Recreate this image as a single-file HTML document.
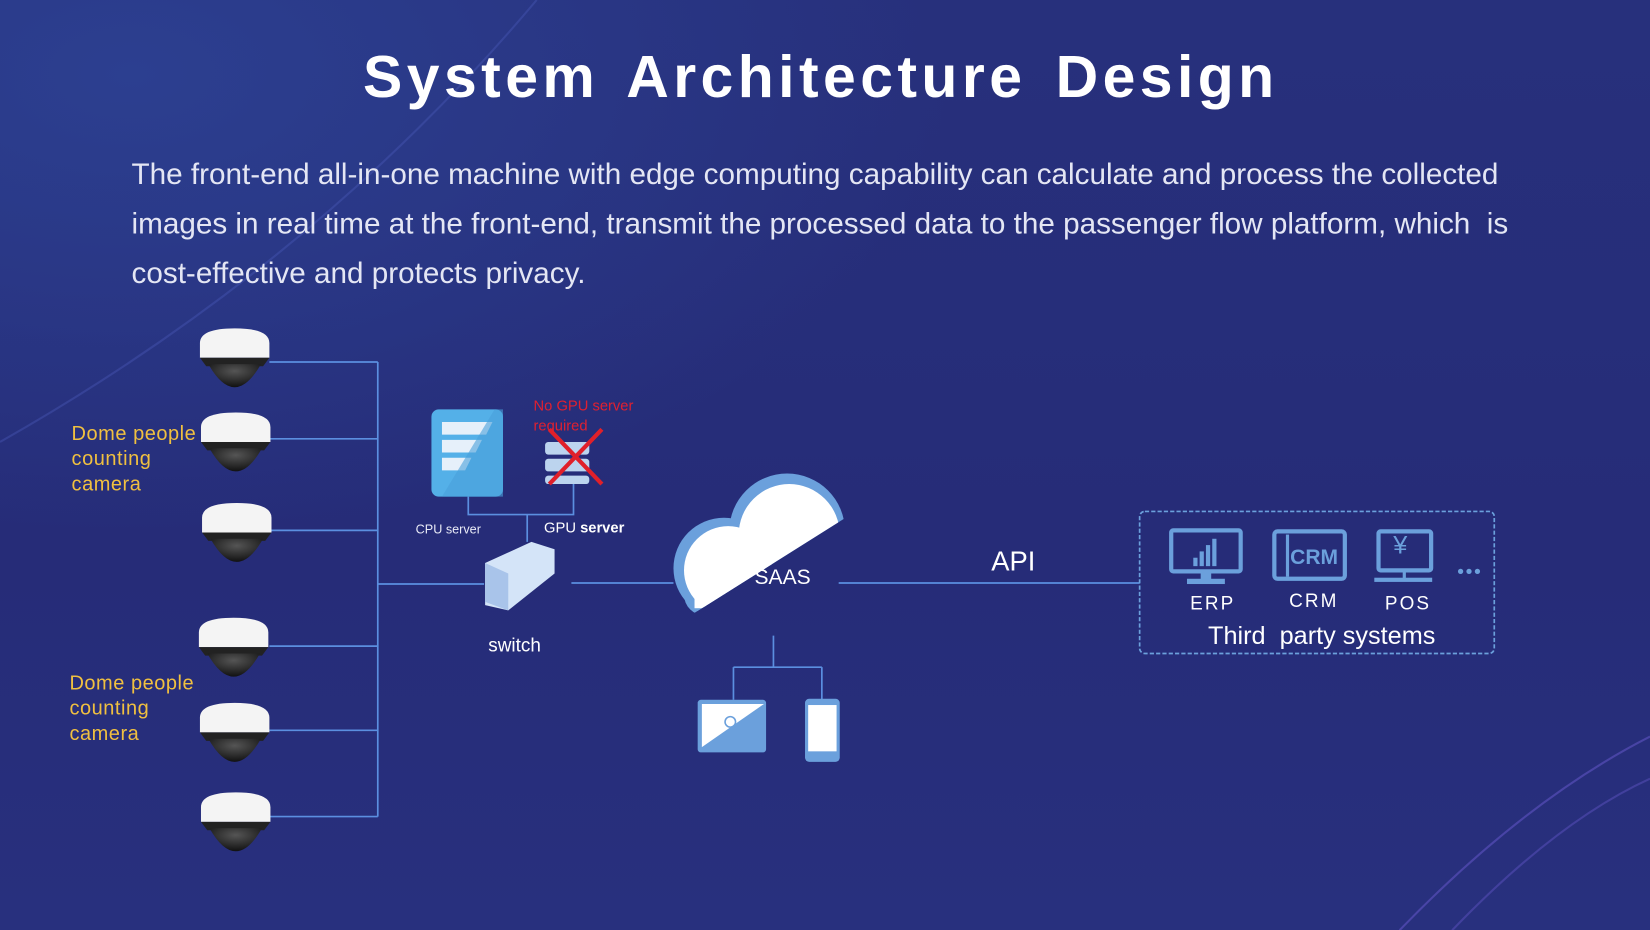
<!DOCTYPE html>
<html><head><meta charset="utf-8"><style>
html,body{margin:0;padding:0;width:1650px;height:930px;overflow:hidden;background:#262c78;}
#s{position:absolute;left:0;top:0;width:1568px;height:884px;transform:scale(1.05230);transform-origin:0 0;
background:radial-gradient(ellipse at 8% 8%,#2c3f90 0%,rgba(40,50,130,0) 38%),linear-gradient(180deg,#27307c 0%,#262c78 60%,#28307e 100%);font-family:"Liberation Sans","DejaVu Sans",sans-serif;overflow:hidden}
.t{position:absolute;white-space:nowrap}
</style></head><body><div id="s">
<svg width="1568" height="884" style="position:absolute;left:0;top:0">
<defs>
<radialGradient id="dome" cx="50%" cy="30%" r="70%"><stop offset="0" stop-color="#555"/><stop offset="1" stop-color="#111"/></radialGradient>
<g id="cam">
<path d="M0,14 Q0,0 33,0 Q66,0 66,14 L66,28 L0,28 Z" fill="#f4f4f4"/>
<path d="M0,28 L66,28 L60,36 L6,36 Z" fill="#222"/>
<path d="M8,34 Q33,78 58,34 Z" fill="url(#dome)"/>
</g>
<clipPath id="cc"><path d="M630,440H810V488L640,595H630Z"/></clipPath>
</defs>
<path d="M1330,884 Q1450,760 1568,700" stroke="#6a5ad0" stroke-width="2" fill="none" opacity="0.5"/>
<path d="M1380,884 Q1480,780 1568,740" stroke="#6a5ad0" stroke-width="2" fill="none" opacity="0.4"/>
<path d="M0,420 Q300,250 510,0" stroke="#4a5ab8" stroke-width="2" fill="none" opacity="0.4"/>
<g stroke="#5b8fe0" stroke-width="1.6" fill="none">
<path d="M256,344H359M256,417H359M256,504H359M256,614H359M256,694H359M256,776H359M359,344V776M359,555H460"/>
<path d="M543,554H640M797,554H1083"/>
<path d="M445,472V489H545V460M501,489V515"/>
<path d="M735,604V634M697,634H781M697,634V665M781,634V665"/>
</g>
<use href="#cam" x="190" y="312"/><use href="#cam" x="191" y="392"/><use href="#cam" x="192" y="478"/>
<use href="#cam" x="189" y="587"/><use href="#cam" x="190" y="668"/><use href="#cam" x="191" y="753"/>
<rect x="410" y="389" width="68" height="83" rx="7" fill="#54b0e8"/>
<path d="M420,401H468L462,413H420ZM420,418H458L452,430H420ZM420,435H448L442,447H420Z" fill="#e6f0fa"/>
<path d="M470,389L478,389L478,472L420,472Z" fill="#4aa0da" opacity="0.6"/>
<g fill="#bcd4ee"><rect x="518" y="420" width="42" height="12" rx="3"/><rect x="518" y="436" width="42" height="12" rx="3"/><rect x="518" y="452" width="42" height="8" rx="3"/></g>
<path d="M522,408L572,460M572,408L522,460" stroke="#e0202a" stroke-width="4"/>
<path d="M461,535L505,515L527,522L527,545L483,580L461,575Z" fill="#d4e4f8"/>
<path d="M461,535L483,545L483,580L461,572Z" fill="#a9c4ea"/>
<g clip-path="url(#cc)">
<g fill="#6ba0dc"><circle cx="748" cy="505" r="55"/><circle cx="688" cy="540" r="48"/><rect x="650" y="540" width="140" height="45" rx="20"/></g>
<g fill="#fff"><circle cx="750" cy="508" r="48"/><circle cx="692" cy="542" r="42"/><rect x="660" y="540" width="120" height="38"/></g>
</g>
<rect x="663" y="665" width="65" height="50" rx="3" fill="#6ba0dc"/>
<path d="M667,669H726L667,710Z" fill="#fff"/>
<circle cx="694" cy="686" r="5" fill="none" stroke="#6ba0dc" stroke-width="1.5"/>
<rect x="765" y="664" width="33" height="60" rx="4" fill="#6ba0dc"/>
<rect x="768" y="670" width="27" height="44" fill="#fff"/>
<rect x="1083" y="486" width="337" height="135" rx="5" fill="none" stroke="#6ba0dc" stroke-width="1.6" stroke-dasharray="4,2"/>
<g fill="none" stroke="#6ba0dc" stroke-width="4">
<rect x="1113" y="504" width="66" height="39" rx="2"/>
<rect x="1211" y="505" width="67" height="45" rx="3"/>
<rect x="1310" y="505" width="50" height="37" rx="2"/>
</g>
<g fill="#6ba0dc">
<rect x="1141" y="543" width="10" height="8"/><rect x="1128" y="550" width="36" height="5"/>
<rect x="1134" y="530" width="4" height="8"/><rect x="1140" y="524" width="4" height="14"/><rect x="1146" y="518" width="4" height="20"/><rect x="1152" y="512" width="4" height="26"/>
<rect x="1222" y="508" width="3" height="40"/>
<rect x="1333" y="542" width="3" height="8"/><rect x="1306" y="549" width="55" height="4"/>
<circle cx="1388" cy="543" r="2.5"/><circle cx="1396" cy="543" r="2.5"/><circle cx="1404" cy="543" r="2.5"/>
</g>
</svg>
<div class="t" style="left:345px;top:40px;font-size:56px;font-weight:bold;color:#fff;letter-spacing:4.2px;word-spacing:8px">System Architecture Design</div>
<div class="t" style="left:125px;top:142px;font-size:28.2px;line-height:47px;color:#e4e6f4">The front-end all-in-one machine with edge computing capability can calculate and process the collected<br>images in real time at the front-end, transmit the processed data to the passenger flow platform, which&nbsp; is<br>cost-effective and protects privacy.</div>
<div class="t" style="left:68px;top:401px;font-size:19px;line-height:24px;color:#f0c040;letter-spacing:0.5px">Dome people<br>counting<br>camera</div>
<div class="t" style="left:66px;top:638px;font-size:19px;line-height:24px;color:#f0c040;letter-spacing:0.5px">Dome people<br>counting<br>camera</div>
<div class="t" style="left:507px;top:376px;font-size:14px;line-height:19px;color:#e02030">No GPU server<br>required</div>
<div class="t" style="left:395px;top:496px;font-size:12px;color:#e8eaf6">CPU server</div>
<div class="t" style="left:517px;top:493px;font-size:14px;color:#fff">GPU <b>server</b></div>
<div class="t" style="left:464px;top:603px;font-size:18px;color:#fff">switch</div>
<div class="t" style="left:717px;top:538px;font-size:20px;color:#fff">SAAS</div>
<div class="t" style="left:942px;top:518px;font-size:26px;color:#fff">API</div>
<div class="t" style="left:1131px;top:563px;font-size:18px;color:#fff;letter-spacing:2px">ERP</div>
<div class="t" style="left:1225px;top:561px;font-size:18px;color:#fff;letter-spacing:2px">CRM</div>
<div class="t" style="left:1316px;top:563px;font-size:18px;color:#fff;letter-spacing:2px">POS</div>
<div class="t" style="left:1148px;top:591px;font-size:24px;color:#fff">Third&nbsp; party systems</div>
<div class="t" style="left:1226px;top:519px;font-size:20px;font-weight:bold;color:#6ba0dc">CRM</div>
<div class="t" style="left:1324px;top:505px;font-size:24px;color:#6ba0dc">¥</div>
</div></body></html>
